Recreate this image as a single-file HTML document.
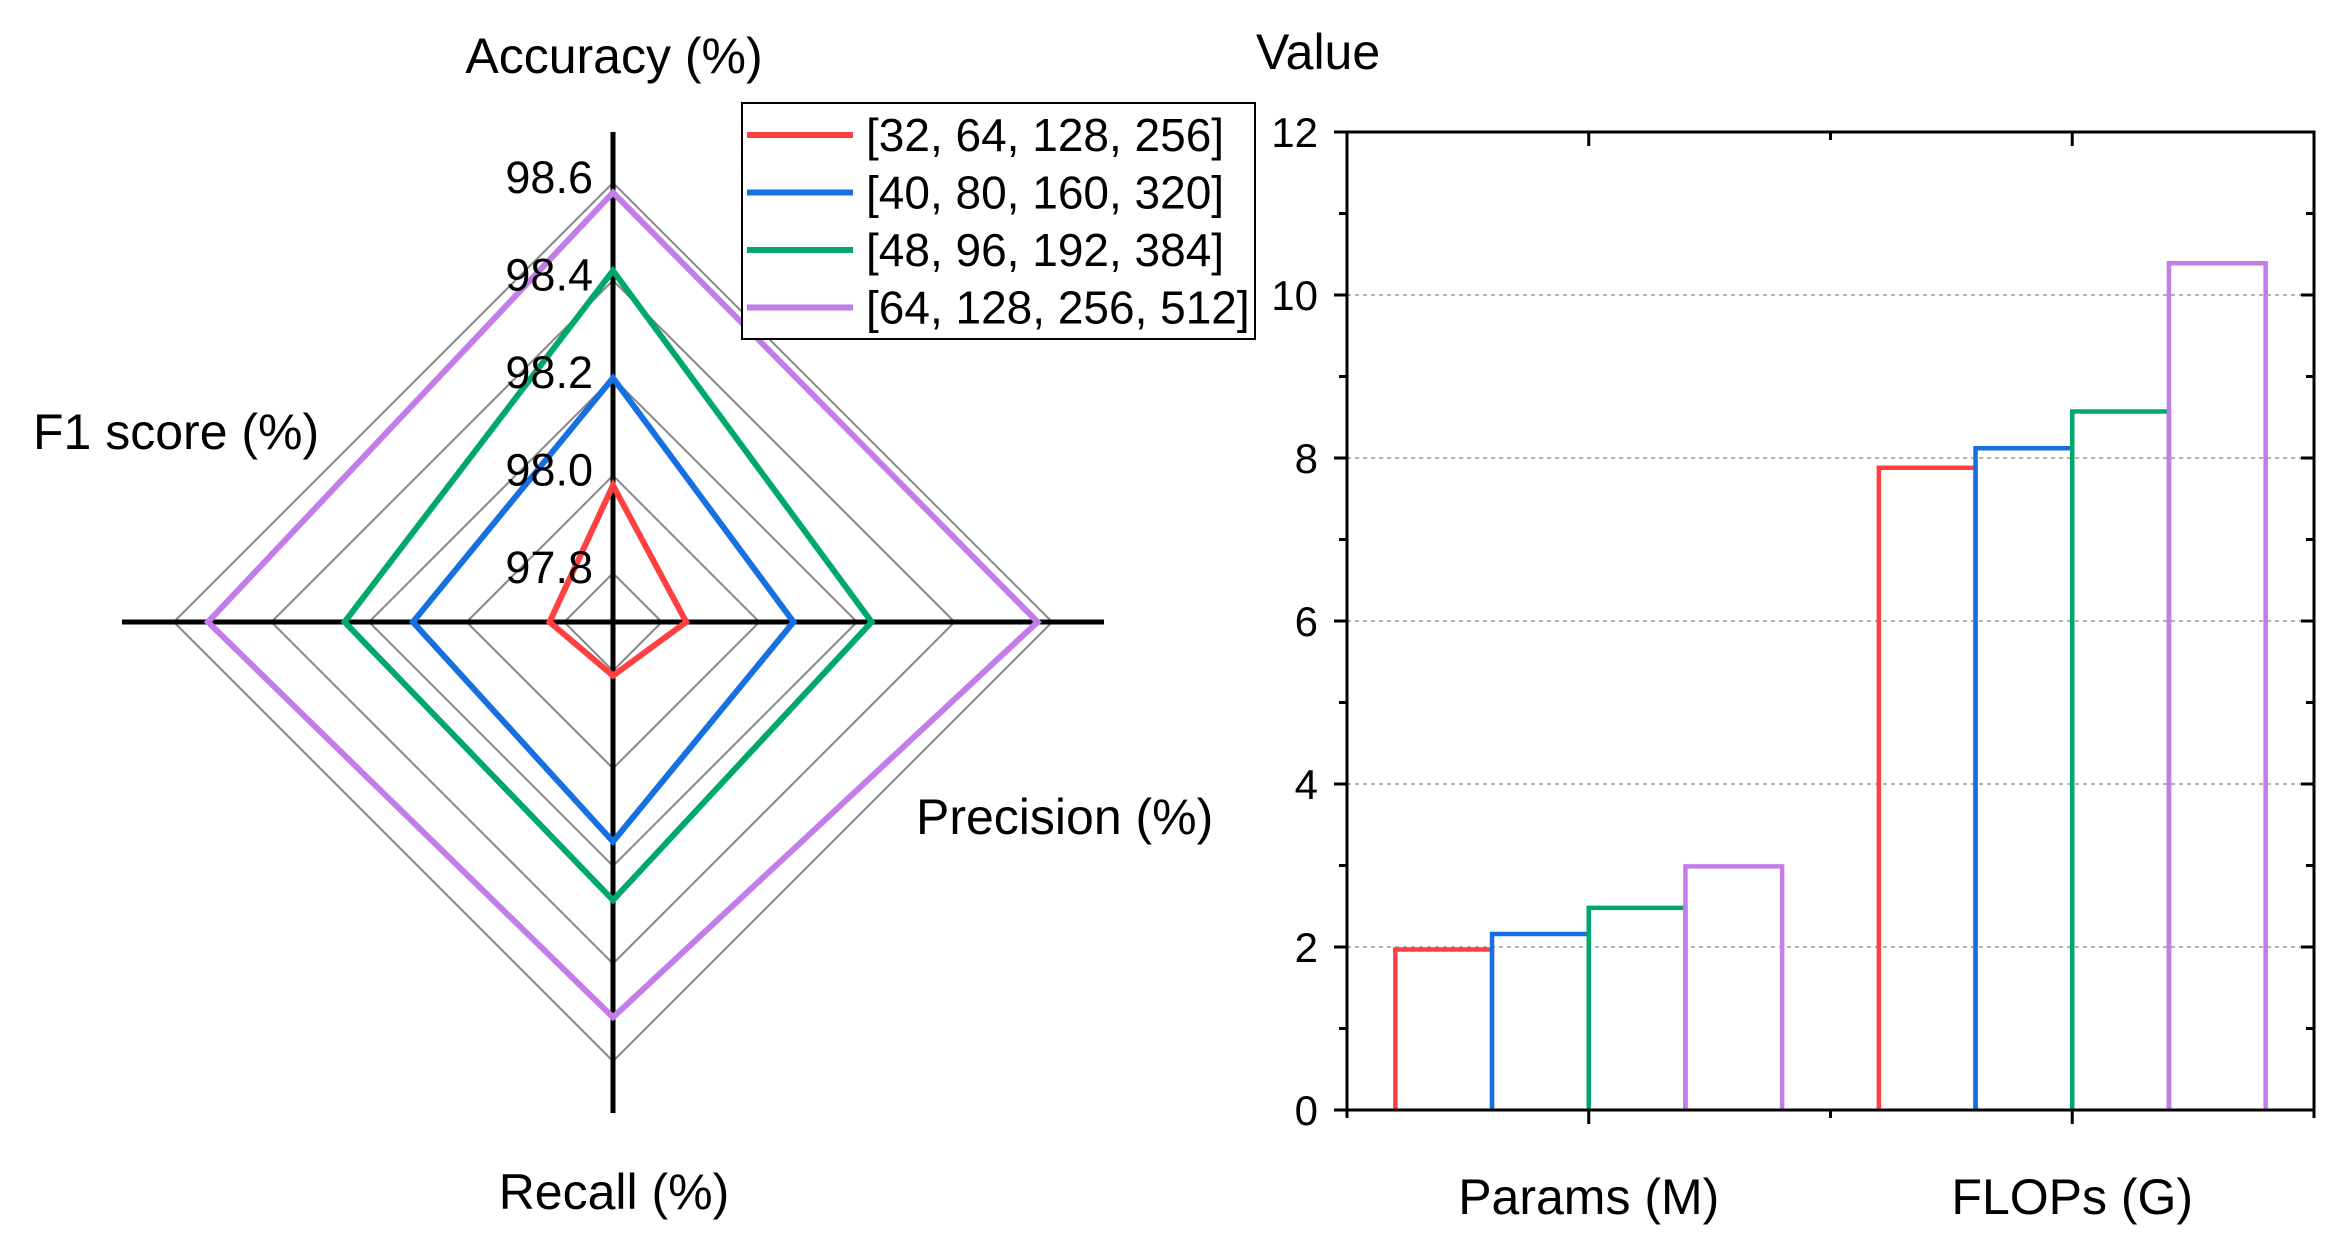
<!DOCTYPE html>
<html><head><meta charset="utf-8"><style>
html,body{margin:0;padding:0;background:#fff;}
svg{display:block;font-family:"Liberation Sans",Arial,sans-serif;}
</style></head><body>
<svg id="fig" width="2348" height="1243" viewBox="0 0 2348 1243" xmlns="http://www.w3.org/2000/svg">
<g id="radar"></g>
<g id="bars"></g>
</svg>
<script>
const seriesNames = ["[32, 64, 128, 256]","[40, 80, 160, 320]","[48, 96, 192, 384]","[64, 128, 256, 512]"];
const seriesColors = ["#ff4040","#1670e0","#00a86a","#c27de8"];
const radarAxes = ["Accuracy (%)","Precision (%)","Recall (%)","F1 score (%)"];
const radarTicks = [97.8,98.0,98.2,98.4,98.6];
const radarRed = [97.98,97.85,97.81,97.83];
const radarBlue = [98.20,98.07,98.15,98.11];
const radarGreen = [98.42,98.23,98.27,98.25];
const radarPurple = [98.58,98.57,98.51,98.53];
const barCategories = ["Params (M)","FLOPs (G)"];
const barRed = [1.97,7.88];
const barBlue = [2.16,8.12];
const barGreen = [2.48,8.57];
const barPurple = [2.99,10.39];
const yTicks = [0,2,4,6,8,10,12];

const NS="http://www.w3.org/2000/svg";
function mk(parent,tag,attrs,text){const e=document.createElementNS(NS,tag);for(const k in attrs)e.setAttribute(k,attrs[k]);if(text!==undefined)e.textContent=text;parent.appendChild(e);return e;}

// ---- radar ----
const R=document.getElementById('radar');
const cx=613,cy=622,rmin=97.7,unit=488;
const dirs=[[0,-1],[1,0],[0,1],[-1,0]];
function rr(v){return (v-rmin)*unit;}
function pt(i,v){return [cx+dirs[i][0]*rr(v),cy+dirs[i][1]*rr(v)];}
radarTicks.forEach(t=>{
  const p=[0,1,2,3].map(i=>pt(i,t).join(',')).join(' ');
  const g=mk(R,'polygon',{points:p,fill:'none',stroke:'#888',"stroke-width":2});
  
  
});
let ax=mk(R,'line',{x1:122,y1:cy,x2:1104,y2:cy,stroke:'#000',"stroke-width":5});

ax=mk(R,'line',{x1:cx,y1:132,x2:cx,y2:1113,stroke:'#000',"stroke-width":5});

[radarRed,radarBlue,radarGreen,radarPurple].forEach((s,k)=>{
  const p=s.map((v,i)=>pt(i,v).join(',')).join(' ');
  const g=mk(R,'polygon',{points:p,fill:'none',stroke:seriesColors[k],"stroke-width":6,"stroke-linejoin":"miter"});
  
  
});
radarTicks.forEach(t=>{
  const g=mk(R,'text',{x:593,y:cy-rr(t)+10,"font-size":45,"text-anchor":"end"},t.toFixed(1));
  
  
});
const labPos=[[614,73,'middle'],[916,834,'start'],[614,1209,'middle'],[33,449,'start']];
radarAxes.forEach((a,i)=>{
  const g=mk(R,'text',{x:labPos[i][0],y:labPos[i][1],"font-size":50,"text-anchor":labPos[i][2]},a);
  
  
});
// legend
const L=mk(R,'g',{});

const lb=mk(L,'rect',{x:742,y:103,width:513,height:236,fill:'#fff',stroke:'#000',"stroke-width":2});

seriesNames.forEach((n,k)=>{
  const y=135+k*57.5;
  const e=mk(L,'g',{});
  
  
  mk(e,'line',{x1:747,y1:y,x2:853,y2:y,stroke:seriesColors[k],"stroke-width":6});
  mk(e,'text',{x:866,y:y+16,"font-size":46},n);
});

// ---- bars ----
const B=document.getElementById('bars');
const X0=1347,X1=2314,Y0=1110,Y1=132,ymax=12;
function ys(v){return Y0-(v/ymax)*(Y0-Y1);}
const catX=[X0+(X1-X0)/4,X0+3*(X1-X0)/4],bw=(X1-X0)/10;
yTicks.forEach(t=>{
  if(t>0&&t<12){const g=mk(B,'line',{x1:X0,y1:ys(t),x2:X1,y2:ys(t),stroke:'#999',"stroke-width":1.5,"stroke-dasharray":"4,4"});
  }
  const tl=mk(B,'text',{x:1318,y:ys(t)+15,"font-size":42,"text-anchor":"end"},String(t));
  
  mk(B,'line',{x1:X0-13,y1:ys(t),x2:X0,y2:ys(t),stroke:'#000',"stroke-width":3});
  mk(B,'line',{x1:X1-13,y1:ys(t),x2:X1,y2:ys(t),stroke:'#000',"stroke-width":3});
  if(t<12){const m=ys(t+1);
    mk(B,'line',{x1:X0-8,y1:m,x2:X0,y2:m,stroke:'#000',"stroke-width":3});
    mk(B,'line',{x1:X1-8,y1:m,x2:X1,y2:m,stroke:'#000',"stroke-width":3});}
});
[barRed,barBlue,barGreen,barPurple].forEach((s,k)=>{
  s.forEach((v,c)=>{
    const x=catX[c]+(k-2)*bw;
    const g=mk(B,'path',{d:`M${x},${Y0} L${x},${ys(v)} L${x+bw},${ys(v)} L${x+bw},${Y0}`,fill:'none',stroke:seriesColors[k],"stroke-width":4.5});
    
    
  });
});
const fr=mk(B,'rect',{x:X0,y:Y1,width:X1-X0,height:Y0-Y1,fill:'none',stroke:'#000',"stroke-width":3});

[X0,(X0+X1)/2,X1].forEach(x=>{mk(B,'line',{x1:x,y1:Y0,x2:x,y2:Y0+8,stroke:'#000',"stroke-width":3});mk(B,'line',{x1:x,y1:Y1,x2:x,y2:Y1+8,stroke:'#000',"stroke-width":3});});
barCategories.forEach((c,i)=>{
  mk(B,'line',{x1:catX[i],y1:Y0,x2:catX[i],y2:Y0+14,stroke:'#000',"stroke-width":3});
  mk(B,'line',{x1:catX[i],y1:Y1,x2:catX[i],y2:Y1+14,stroke:'#000',"stroke-width":3});
  const g=mk(B,'text',{x:catX[i],y:1214,"font-size":50,"text-anchor":"middle"},c);
  
});
const yt=mk(B,'text',{x:1256,y:69,"font-size":50},"Value");

</script>
</body></html>
